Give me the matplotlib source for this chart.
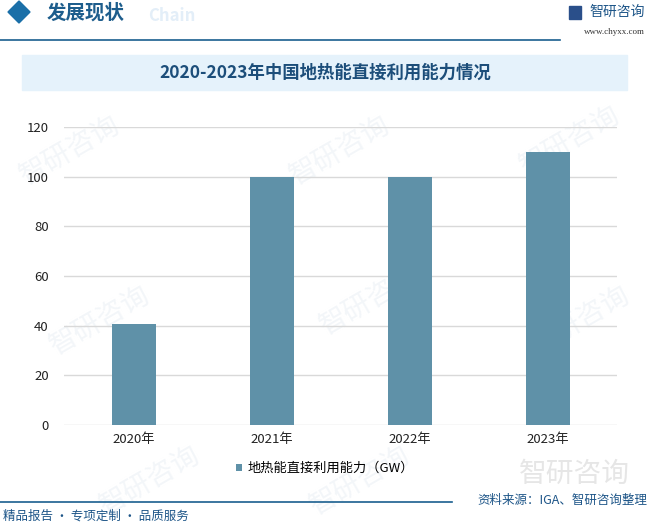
import matplotlib
matplotlib.use("Agg")
import matplotlib.pyplot as plt
from matplotlib.patches import Rectangle, Polygon

plt.rcParams['font.family'] = ['Noto Sans CJK SC', 'DejaVu Sans']

# 数据
years = ['2020年', '2021年', '2022年', '2023年']
capacity = [40.6, 100, 100, 110]
series_name = '地热能直接利用能力（GW）'
y_ticks = [0, 20, 40, 60, 80, 100, 120]

BLUE = '#1d5588'
BAR = '#5f91a8'

fig = plt.figure(figsize=(6.49, 5.25), dpi=100)
W, H = 649, 525

def fx(x):
    return x / W

def fy(y):
    return 1 - y / H

# 水印（很浅，放在图表后面）
for (x, y) in [(70, 150), (340, 150), (570, 140), (100, 320), (370, 300),
               (580, 320), (150, 480), (360, 480)]:
    fig.text(fx(x), fy(y), '智研咨询', fontsize=20, color='#f3f6f9',
             rotation=30, ha='center', va='center', zorder=-5)

# 页眉
fig.patches.append(Polygon([[fx(8), fy(12)], [fx(19), fy(1)], [fx(30), fy(12)], [fx(19), fy(23)]],
                           closed=True, transform=fig.transFigure, color='#1a6fa8', zorder=3))
fig.text(fx(47), fy(13), '发展现状', fontsize=14, fontweight='bold', color='#1d5d8c',
         ha='left', va='center')
fig.text(fx(148), fy(16), 'Chain', fontsize=12, fontweight='bold', color='#e3eef8',
         ha='left', va='center')
fig.add_artist(plt.Line2D([0, fx(560)], [fy(40), fy(40)], color='#1a5f8f', lw=1.2))
fig.text(fx(645), fy(12), '智研咨询', fontsize=10, color=BLUE, ha='right', va='center')
fig.patches.append(Rectangle((fx(569), fy(19)), 12 / W, 13 / H, transform=fig.transFigure,
                             color='#2a4f8a', zorder=3))
fig.text(fx(645), fy(32), 'www.chyxx.com', fontsize=6.5, color='#333333', ha='right',
         va='center', family=['Liberation Serif'])

# 标题栏
fig.patches.append(Rectangle((fx(22), fy(90)), 605 / W, 35 / H, transform=fig.transFigure,
                             color='#e5f2fb', zorder=-2))
fig.text(fx(325), fy(73), '2020-2023年中国地热能直接利用能力情况', fontsize=12.5,
         fontweight='bold', color='#1c4e7a', ha='center', va='center', zorder=2)

# 图表
ax = fig.add_axes([fx(64), fy(425), (617 - 64) / W, (425 - 127) / H])
ax.patch.set_alpha(0)
x = range(len(years))
ax.bar(x, capacity, width=0.32, color=BAR, zorder=3, label=series_name)
ax.set_ylim(0, 120)
ax.set_xlim(-0.507, 3.5)
ax.set_yticks(y_ticks)
ax.set_xticks(list(x))
ax.set_xticklabels(years)
ax.grid(axis='y', color='#d9d9d9', lw=1)
for s in ax.spines.values():
    s.set_visible(False)
ax.tick_params(axis='both', length=0, labelsize=9.5, colors='#222222')
ax.tick_params(axis='y', pad=11)
ax.tick_params(axis='x', pad=6)

ax.legend(loc='upper center', bbox_to_anchor=((325 - 64) / (617 - 64), -0.085), frameon=False,
          fontsize=9.5, handlelength=0.5, handleheight=0.5, handletextpad=0.4)

# 页脚
fig.text(fx(630), fy(474), '智研咨询', fontsize=20, color='#e6e6e6', ha='right', va='center',
         zorder=-1)
fig.add_artist(plt.Line2D([0, fx(452)], [fy(502), fy(502)], color='#1a5f8f', lw=1.2))
fig.text(fx(3), fy(516), '精品报告 · 专项定制 · 品质服务', fontsize=9, color=BLUE,
         ha='left', va='center')
fig.text(fx(647), fy(500), '资料来源：IGA、智研咨询整理', fontsize=9, color=BLUE,
         ha='right', va='center')

fig.savefig('out.png', dpi=100)
